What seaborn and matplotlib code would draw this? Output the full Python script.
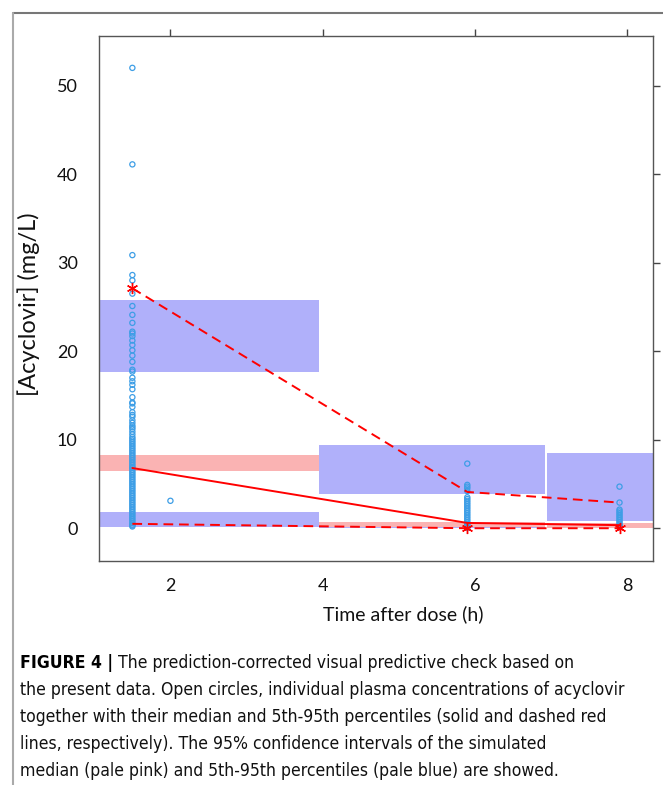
import matplotlib
matplotlib.use("Agg")
import matplotlib.pyplot as plt
import seaborn as sns
import pandas as pd
from matplotlib.lines import Line2D

# ---------------- data ----------------
obs_t1 = 1.5
obs_vals_t1 = [52.0, 41.1, 30.85, 28.6, 28.0, 26.5, 25.1, 24.1, 23.2, 22.2, 22.0, 21.7,
               21.2, 20.7, 20.1, 19.5, 18.8, 17.9, 17.7, 17.0, 16.6, 16.2, 15.7, 14.8,
               14.2, 14.1, 13.7, 13.1, 12.8, 12.6, 12.2, 11.9, 11.6, 11.4, 11.2, 10.9,
               10.6, 10.3, 10.1, 9.9, 9.7, 9.5, 9.3, 9.1, 8.9, 8.7, 8.5, 8.3, 8.1, 7.9,
               7.7, 7.5, 7.3, 7.1, 6.9, 6.8, 6.6, 6.4, 6.2, 6.0, 5.8, 5.6, 5.4, 5.2, 5.0,
               4.8, 4.6, 4.4, 4.2, 4.0, 3.8, 3.6, 3.4, 3.2, 3.0, 2.8, 2.6, 2.4, 2.2, 2.0,
               1.8, 1.6, 1.4, 1.2, 1.0, 0.8, 0.6, 0.4, 0.3, 0.2]
obs_t2 = 2.0
obs_vals_t2 = [3.1]
obs_t3 = 5.9
obs_vals_t3 = [7.3, 4.9, 4.7, 4.5, 4.2, 3.5, 3.3, 3.1, 2.9, 2.7, 2.5, 2.3, 2.1, 1.9, 1.7,
               1.5, 1.3, 1.1, 0.9, 0.7, 0.5, 0.4, 0.3, 0.2, 0.1, 0.05]
obs_t4 = 7.9
obs_vals_t4 = [4.7, 2.9, 2.1, 1.9, 1.7, 1.5, 1.3, 1.1, 0.9, 0.7, 0.5, 0.3, 0.2, 0.1]

pct_times = [1.5, 5.9, 7.9]
obs_p95 = [27.1, 4.1, 2.9]
obs_p50 = [6.8, 0.6, 0.35]
obs_p05 = [0.5, 0.0, 0.0]
star_times = [1.5, 5.9, 7.9]
star_vals = [27.1, 0.0, 0.0]

bin_left = [1.05, 3.95, 6.95]
bin_right = [3.95, 6.92, 8.35]
ci_p95_lo = [17.7, 3.85, 0.8]
ci_p95_hi = [25.8, 9.45, 8.5]
ci_p50_lo = [6.5, 0.15, 0.05]
ci_p50_hi = [8.3, 0.65, 0.55]
ci_p05_lo = [0.1, 0.0, 0.0]
ci_p05_hi = [1.8, 0.1, 0.1]

x_ticks = [2, 4, 6, 8]
y_ticks = [0, 10, 20, 30, 40, 50]

caption_bold = "FIGURE 4 |"
caption_lines = ["The prediction-corrected visual predictive check based on",
                 "the present data. Open circles, individual plasma concentrations of acyclovir",
                 "together with their median and 5th-95th percentiles (solid and dashed red",
                 "lines, respectively). The 95% confidence intervals of the simulated",
                 "median (pale pink) and 5th-95th percentiles (pale blue) are showed."]

# ---------------- figure ----------------
sns.set_style("white")
plt.rcParams['font.family'] = ['Lato', 'DejaVu Sans']
plt.rcParams['text.color'] = '#111111'
plt.rcParams['axes.labelcolor'] = '#111111'
plt.rcParams['xtick.color'] = '#111111'
plt.rcParams['ytick.color'] = '#111111'

W, H = 663, 785
fig = plt.figure(figsize=(W / 100, H / 100), dpi=100)
ax = fig.add_axes([98.5 / W, 1 - 561 / H, (653 - 98.5) / W, (561 - 36) / H])

blue = (0.69, 0.69, 0.98)
pink = (0.98, 0.70, 0.70)
for i in range(len(bin_left)):
    xs = [bin_left[i], bin_right[i]]
    ax.fill_between(xs, [ci_p95_lo[i]] * 2, [ci_p95_hi[i]] * 2, color=blue, lw=0, zorder=1)
    ax.fill_between(xs, [ci_p05_lo[i]] * 2, [ci_p05_hi[i]] * 2, color=blue, lw=0, zorder=1)
for i in range(len(bin_left)):
    xs = [bin_left[i], bin_right[i]]
    ax.fill_between(xs, [ci_p50_lo[i]] * 2, [ci_p50_hi[i]] * 2, color=pink, lw=0, zorder=1.5)

obs = pd.DataFrame({
    "time": [obs_t1] * len(obs_vals_t1) + [obs_t2] * len(obs_vals_t2)
            + [obs_t3] * len(obs_vals_t3) + [obs_t4] * len(obs_vals_t4),
    "conc": obs_vals_t1 + obs_vals_t2 + obs_vals_t3 + obs_vals_t4,
})
sns.scatterplot(data=obs, x="time", y="conc", ax=ax, marker="o", s=14,
                facecolors="none", edgecolor="#3d9ee6", linewidth=0.9, zorder=3)

pct = pd.DataFrame({"time": pct_times, "p95": obs_p95, "p50": obs_p50, "p05": obs_p05})
sns.lineplot(data=pct, x="time", y="p50", ax=ax, color="red", lw=1.4, zorder=4)
sns.lineplot(data=pct, x="time", y="p95", ax=ax, color="red", lw=1.4, ls=(0, (5, 3)), zorder=4)
sns.lineplot(data=pct, x="time", y="p05", ax=ax, color="red", lw=1.4, ls=(0, (5, 3)), zorder=4)
ax.plot(star_times, star_vals, ls="none", marker=(6, 2, 0), ms=8, mew=1.0, color="red", zorder=5)

ax.set_xlim(1.055, 8.34)
ax.set_ylim(-3.7, 55.6)
ax.set_xticks(x_ticks)
ax.set_yticks(y_ticks)
ax.set_xticklabels([str(t) for t in x_ticks], fontsize=13)
ax.set_yticklabels([str(t) for t in y_ticks], fontsize=13)
ax.tick_params(axis="y", pad=10)
ax.tick_params(axis="x", pad=7)
ax.tick_params(axis="both", direction="out", length=5, width=1, color="#444444",
               top=True, right=True, labeltop=False, labelright=False)
for s in ax.spines.values():
    s.set_color("#555555")
    s.set_linewidth(1.0)
ax.set_xlabel("Time after dose (h)", fontsize=14)
ax.set_ylabel("[Acyclovir] (mg/L)", fontsize=17)
ax.xaxis.set_label_coords((403 - 98.5) / (653 - 98.5), -0.085)
ax.yaxis.set_label_coords(-0.105, 0.49)

# outer frame
fig.add_artist(Line2D([12.7 / W, 1.0], [1 - 13.3 / H, 1 - 13.3 / H], color="#777777", lw=1.5))
fig.add_artist(Line2D([12.7 / W, 12.7 / W], [1 - 13.3 / H, 0.0], color="#aaaaaa", lw=1.5))

# caption (fit the longest line to the reference width)
cap_font = ['DejaVu Sans']
lines_y = [663, 690, 717, 744, 771]
renderer = fig.canvas.get_renderer()
probe = fig.text(0, 0, caption_lines[1], family=cap_font, stretch="condensed", fontsize=10)
wpx = probe.get_window_extent(renderer).width
probe.remove()
fs = 10 * 606 / wpx

tb = fig.text(20 / W, 1 - lines_y[0] / H, caption_bold, family=cap_font, stretch="condensed",
              weight="bold", fontsize=fs, va="center", ha="left", color="#000000")
bw = tb.get_window_extent(renderer).width
fig.text((20 + bw + 5) / W, 1 - lines_y[0] / H, caption_lines[0], family=cap_font,
         stretch="condensed", fontsize=fs, va="center", ha="left", color="#111111")
for yy, t in zip(lines_y[1:], caption_lines[1:]):
    fig.text(20 / W, 1 - yy / H, t, family=cap_font, stretch="condensed", fontsize=fs,
             va="center", ha="left", color="#111111")

fig.savefig("out.png", dpi=100)
